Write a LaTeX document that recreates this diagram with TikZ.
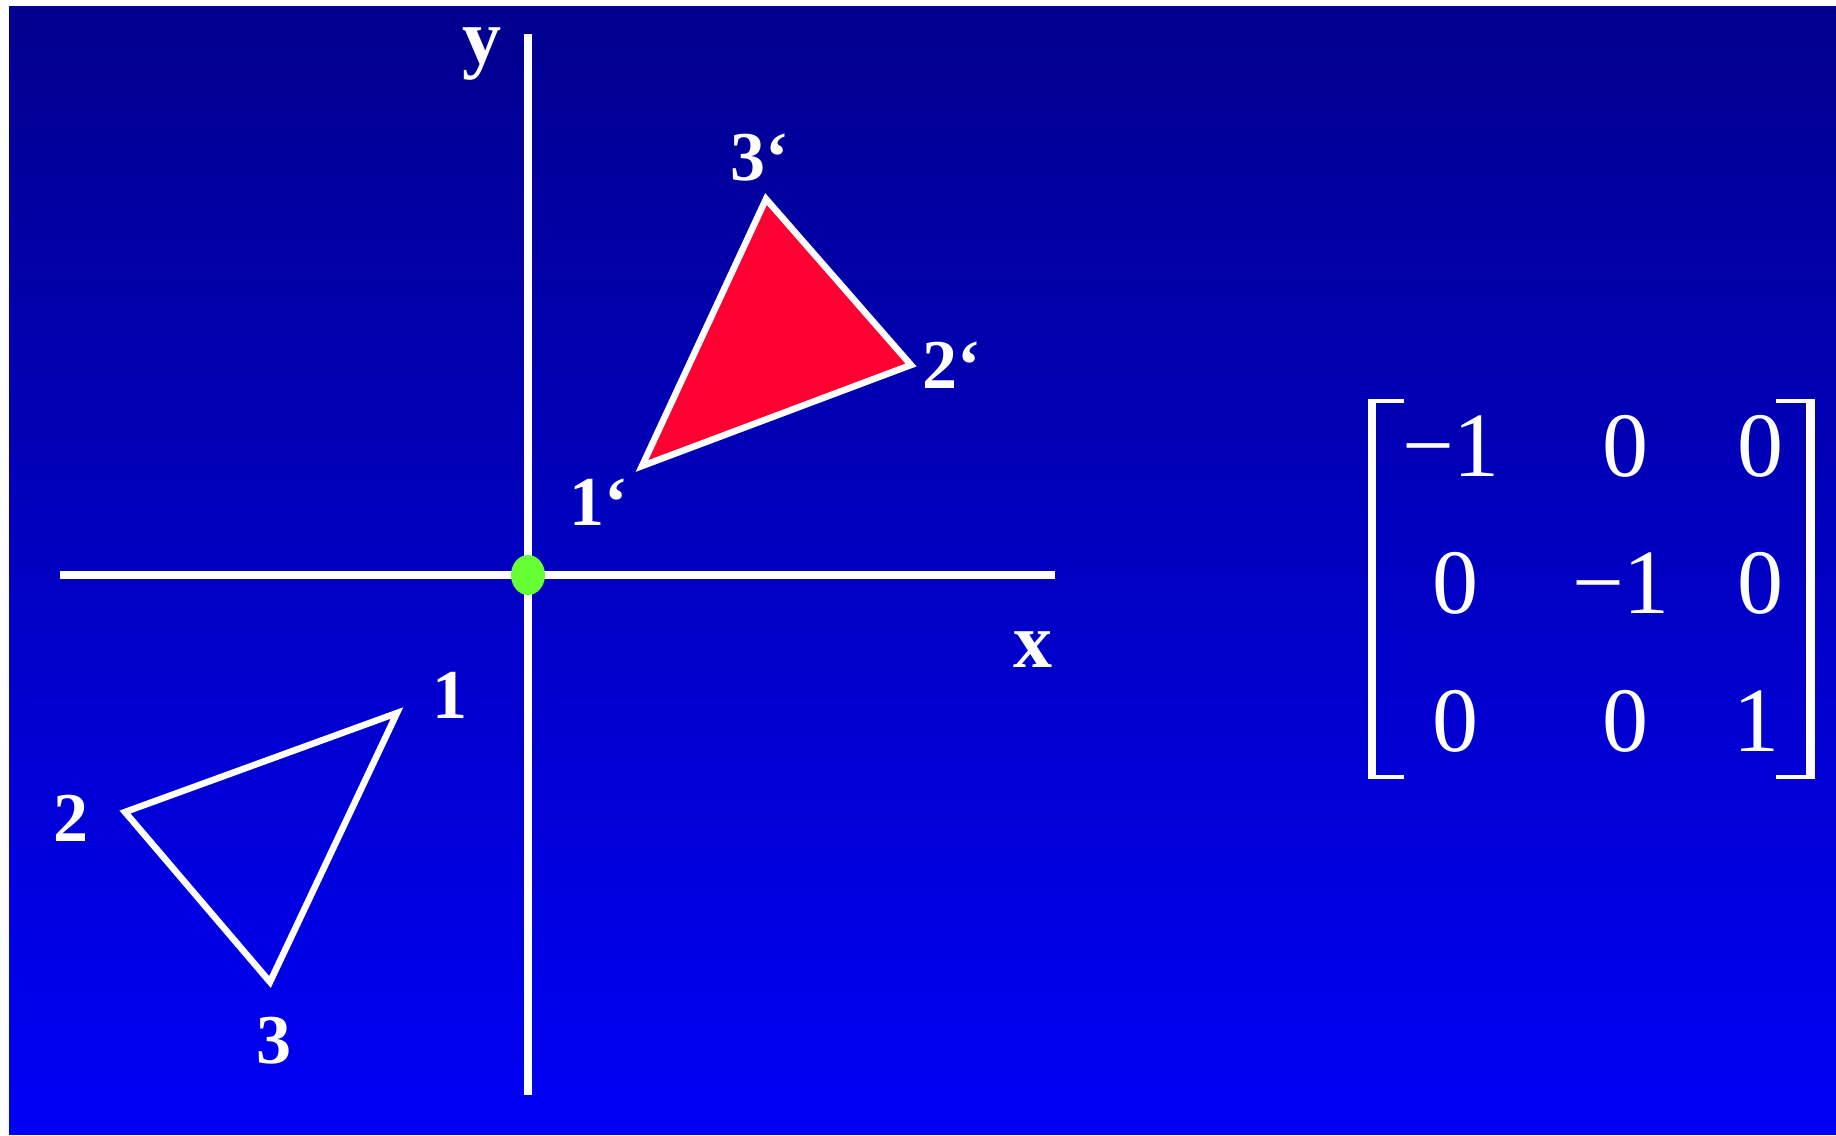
\documentclass[tikz,border=0pt]{standalone}
\usepackage{fontspec}
\setmainfont{Liberation Serif}
\definecolor{topblue}{RGB}{2,0,142}
\definecolor{botblue}{RGB}{0,0,246}
\definecolor{trired}{RGB}{255,0,51}
\definecolor{dotgreen}{RGB}{102,255,51}
\tikzset{
  axisline/.style={white, line width=8pt},
  triline/.style={white, line width=6.5pt, line join=miter},
  vlabel/.style={text=white, inner sep=0pt, anchor=base, font=\bfseries\fontsize{70}{80}\selectfont},
  axlabel/.style={text=white, inner sep=0pt, anchor=base, font=\bfseries\fontsize{78}{88}\selectfont},
  mentry/.style={text=white, inner sep=0pt, anchor=base, font=\fontsize{92}{100}\selectfont},
  bracketpart/.style={fill=white, draw=none}
}
\begin{document}
\begin{tikzpicture}[x=1pt, y=-1pt]
\useasboundingbox (0,0) rectangle (1836,1135);
\fill[white] (0,0) rectangle (1836,1135);
\shade[top color=topblue, bottom color=botblue] (9,6) rectangle (1836,1134);

% axes
\coordinate (ytop) at (528,34);
\coordinate (ybot) at (528,1095);
\coordinate (xleft) at (60,575);
\coordinate (xright) at (1055,575);
\draw[axisline] (ytop) -- (ybot);
\draw[axisline] (xleft) -- (xright);
\node[axlabel] (ylab) at (482,63) {y};
\node[axlabel] (xlab) at (1033,667) {x};

% original triangle
\coordinate (p1) at (397,713);
\coordinate (p2) at (125,812);
\coordinate (p3) at (270,982);
\draw[triline] (p1) -- (p2) -- (p3) -- cycle;

% reflected triangle
\coordinate (q1) at (642,466);
\coordinate (q2) at (911,365);
\coordinate (q3) at (766,199);
\filldraw[triline, fill=trired] (q1) -- (q2) -- (q3) -- cycle;

% origin dot
\fill[dotgreen] (528,575) ellipse [x radius=17, y radius=20];
\node[inner sep=0pt] (origin) at (528,575) {};

% vertex labels
\node[vlabel] (l1) at (450,718) {1};
\node[vlabel] (l2) at (71,841) {2};
\node[vlabel] (l3) at (274,1063) {3};
\node[vlabel] (l1p) at (599,525) {1‘};
\node[vlabel] (l2p) at (952,388) {2‘};
\node[vlabel] (l3p) at (760,180) {3‘};

% matrix brackets
\fill[bracketpart] (1368,399) rectangle (1376,779);
\fill[bracketpart] (1368,399) rectangle (1404,403);
\fill[bracketpart] (1368,775) rectangle (1404,779);
\fill[bracketpart] (1806,399) rectangle (1815,779);
\fill[bracketpart] (1776,399) rectangle (1815,403);
\fill[bracketpart] (1776,775) rectangle (1815,779);

% matrix entries
\node[mentry] (m11) at (1451,476) {−1};
\node[mentry] (m12) at (1625,476) {0};
\node[mentry] (m13) at (1760,476) {0};
\node[mentry] (m21) at (1455,613) {0};
\node[mentry] (m22) at (1621,613) {−1};
\node[mentry] (m23) at (1760,613) {0};
\node[mentry] (m31) at (1455,751) {0};
\node[mentry] (m32) at (1625,751) {0};
\node[mentry] (m33) at (1756,751) {1};
\end{tikzpicture}
\end{document}
